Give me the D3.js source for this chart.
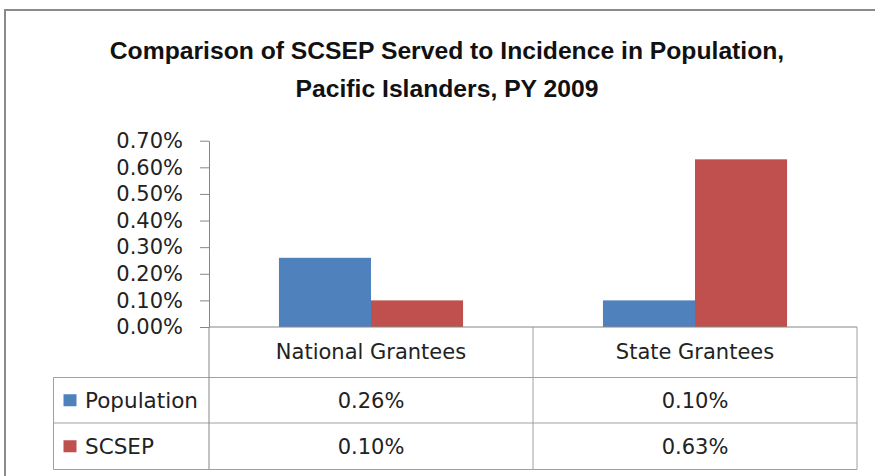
<!DOCTYPE html>
<html>
<head>
<meta charset="utf-8">
<script src="https://cdn.jsdelivr.net/npm/d3@7"></script>
<style>
  body { margin: 0; background: #fff; overflow: hidden; }
  svg { display: block; }
</style>
</head>
<body>
<svg id="chart" width="875" height="476"></svg>
<script>
// 데이터
var categories = ["National Grantees", "State Grantees"];
var seriesNames = ["Population", "SCSEP"];
var population = [0.26, 0.10];
var scsep = [0.10, 0.63];
var yTicks = [0, 0.1, 0.2, 0.3, 0.4, 0.5, 0.6, 0.7];
var titleLines = ["Comparison of SCSEP Served to Incidence in Population,", "Pacific Islanders, PY 2009"];
var colors = ["#4F81BD", "#C0504D"];

var seriesValues = [population, scsep];

var svg = d3.select("#chart");
var font = "'DejaVu Sans', sans-serif";

// 바깥 테두리
svg.append("rect")
    .attr("x", 5).attr("y", 10)
    .attr("width", 900).attr("height", 500)
    .attr("fill", "#fff")
    .attr("stroke", "#8a8a8a")
    .attr("stroke-width", 2);

// 제목
svg.selectAll(".title")
    .data(titleLines)
    .enter().append("text")
    .attr("class", "title")
    .attr("x", 447)
    .attr("y", function(d, i) { return 59 + i * 37.5; })
    .attr("text-anchor", "middle")
    .style("font-family", "'Liberation Sans', Arial, sans-serif")
    .style("font-weight", "bold")
    .style("font-size", "24.7px")
    .style("fill", "#111")
    .text(function(d) { return d; });

var plotLeft = 209, plotRight = 857, plotTop = 140.7, plotBottom = 327;

var y = d3.scaleLinear()
    .domain([0, 0.7])
    .range([plotBottom, plotTop]);

var x0 = d3.scaleBand()
    .domain(categories)
    .range([plotLeft, plotRight]);

var x1 = d3.scaleBand()
    .domain(seriesNames)
    .range([0, x0.bandwidth()])
    .paddingInner(0)
    .paddingOuter(0.76);

// 막대
seriesNames.forEach(function(s, si) {
    svg.selectAll(".bar-" + si)
        .data(categories)
        .enter().append("rect")
        .attr("class", "bar-" + si)
        .attr("x", function(c) { return x0(c) + x1(s); })
        .attr("width", x1.bandwidth())
        .attr("y", function(c, ci) { return y(seriesValues[si][ci]); })
        .attr("height", function(c, ci) { return plotBottom - y(seriesValues[si][ci]); })
        .attr("fill", colors[si]);
});

// y축
var yAxis = svg.append("g")
    .attr("transform", "translate(" + plotLeft + ",0)")
    .call(d3.axisLeft(y)
        .tickValues(yTicks)
        .tickSize(9)
        .tickSizeOuter(0)
        .tickPadding(17)
        .tickFormat(function(d) { return d.toFixed(2) + "%"; }));
yAxis.select(".domain").attr("stroke", "#868686");
yAxis.selectAll(".tick line").attr("stroke", "#868686");
yAxis.selectAll(".tick text")
    .style("font-family", font)
    .style("font-size", "21px")
    .style("fill", "#222");

// 데이터 테이블
var tableLeft = 53.5;
var rowEdges = [plotBottom, 377.5, 423, 469.5];
var lineColor = "#a0a0a0";
var tbl = svg.append("g");

// 가로선
tbl.append("line")
    .attr("x1", plotLeft).attr("x2", plotRight)
    .attr("y1", rowEdges[0]).attr("y2", rowEdges[0])
    .attr("stroke", "#868686");
rowEdges.slice(1).forEach(function(ry) {
    tbl.append("line")
        .attr("x1", tableLeft).attr("x2", plotRight)
        .attr("y1", ry).attr("y2", ry)
        .attr("stroke", lineColor);
});
// 세로선
tbl.append("line")
    .attr("x1", tableLeft).attr("x2", tableLeft)
    .attr("y1", rowEdges[1]).attr("y2", rowEdges[3])
    .attr("stroke", lineColor);
[plotLeft, x0(categories[1]), plotRight].forEach(function(vx, i) {
    tbl.append("line")
        .attr("x1", vx).attr("x2", vx)
        .attr("y1", rowEdges[0]).attr("y2", rowEdges[3])
        .attr("stroke", i === 0 ? "#868686" : lineColor);
});

// 헤더 텍스트
tbl.selectAll(".cat")
    .data(categories)
    .enter().append("text")
    .attr("class", "cat")
    .attr("x", function(c) { return x0(c) + x0.bandwidth() / 2; })
    .attr("y", 359)
    .attr("text-anchor", "middle")
    .style("font-family", font)
    .style("font-size", "21px")
    .style("fill", "#222")
    .text(function(c) { return c; });

// 행: 범례 + 값
seriesNames.forEach(function(s, si) {
    var top = rowEdges[si + 1], bottom = rowEdges[si + 2];
    var mid = (top + bottom) / 2;
    tbl.append("rect")
        .attr("x", 63.5).attr("y", mid - 6)
        .attr("width", 13).attr("height", 12)
        .attr("fill", colors[si]);
    tbl.append("text")
        .attr("x", 85)
        .attr("y", mid + 7.5)
        .style("font-family", font)
        .style("font-size", "21.5px")
        .style("fill", "#222")
        .text(s);
    tbl.selectAll(".val-" + si)
        .data(categories)
        .enter().append("text")
        .attr("class", "val-" + si)
        .attr("x", function(c) { return x0(c) + x0.bandwidth() / 2; })
        .attr("y", mid + 8)
        .attr("text-anchor", "middle")
        .style("font-family", font)
        .style("font-size", "21px")
        .style("fill", "#222")
        .text(function(c, ci) { return seriesValues[si][ci].toFixed(2) + "%"; });
});
</script>
</body>
</html>
